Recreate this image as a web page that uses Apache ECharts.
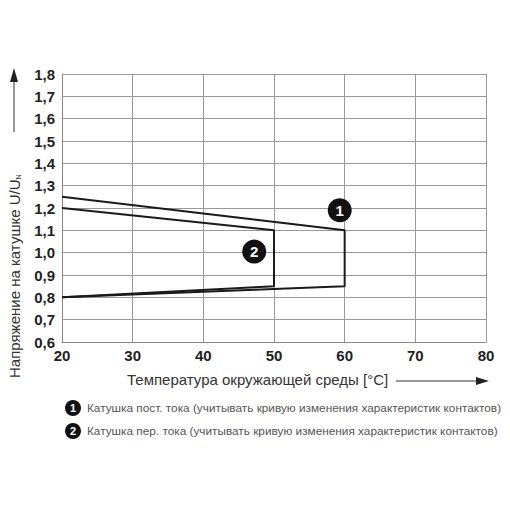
<!DOCTYPE html>
<html><head><meta charset="utf-8">
<script src="https://cdn.jsdelivr.net/npm/echarts@6/dist/echarts.min.js"></script>
<style>html,body{margin:0;padding:0;background:#fff}#c{width:510px;height:510px}</style>
</head><body><div id="c"></div>
<script>
const xTicks = [20, 30, 40, 50, 60, 70, 80];
const yTicks = [0.6, 0.7, 0.8, 0.9, 1.0, 1.1, 1.2, 1.3, 1.4, 1.5, 1.6, 1.7, 1.8];
// Curve 1: DC coil
const dcX = [20, 60, 60, 20];
const dcY = [1.25, 1.10, 0.85, 0.80];
// Curve 2: AC coil
const acX = [20, 50, 50, 20];
const acY = [1.20, 1.10, 0.85, 0.80];
// Numbered markers
const markerX = [59.3, 47.2];
const markerY = [1.19, 1.005];
const markerLabels = ['1', '2'];
const legendTexts = [
  'Катушка пост. тока (учитывать кривую изменения характеристик контактов)',
  'Катушка пер. тока (учитывать кривую изменения характеристик контактов)'
];
const xTitle = 'Температура окружающей среды [°C]';
const yTitle = 'Напряжение на катушке U/U';
const yTitleSub = 'N';

const font = 'Liberation Sans, Arial, sans-serif';
const chart = echarts.init(document.getElementById('c'), null, {renderer: 'svg'});
const zip = (xs, ys) => xs.map((x, i) => [x, ys[i]]);

const graphic = [
  // x title
  {type: 'text', left: 127, top: 372, style: {text: xTitle, font: '15px ' + font, fill: '#333'}},
  {type: 'line', shape: {x1: 396, y1: 381, x2: 478, y2: 381}, style: {stroke: '#333', lineWidth: 1}},
  {type: 'polygon', shape: {points: [[489, 381], [476, 377], [476, 385]]}, style: {fill: '#222'}},
  // y title
  {type: 'text', x: 14, y: 378, rotation: Math.PI / 2,
   style: {text: '{a|' + yTitle + '}{s|' + yTitleSub + '}', align: 'left', verticalAlign: 'middle',
     rich: {a: {font: '15px ' + font, fill: '#333'}, s: {font: '7px ' + font, fill: '#333', padding: [9, 0, 0, 0]}}}},
  {type: 'line', shape: {x1: 14, y1: 132, x2: 14, y2: 82}, style: {stroke: '#333', lineWidth: 1}},
  {type: 'polygon', shape: {points: [[14, 68], [10, 82], [18, 82]]}, style: {fill: '#222'}}
];
legendTexts.forEach((t, i) => {
  const cy = 408 + i * 23;
  graphic.push({type: 'circle', shape: {cx: 73, cy: cy, r: 8}, style: {fill: '#111'}});
  graphic.push({type: 'text', x: 73, y: cy, style: {text: markerLabels[i], font: 'bold 11px ' + font, fill: '#fff', align: 'center', verticalAlign: 'middle'}});
  graphic.push({type: 'text', x: 87, y: cy, style: {text: t, font: '11.8px ' + font, fill: '#555', align: 'left', verticalAlign: 'middle'}});
});

chart.setOption({
  animation: false,
  grid: {left: 62, right: 24, top: 74, bottom: 168, containLabel: false},
  xAxis: {
    type: 'value', min: 20, max: 80, interval: 10,
    axisLine: {show: true, lineStyle: {color: '#888', width: 1}},
    axisTick: {show: false},
    splitLine: {show: true, lineStyle: {color: '#999', width: 1}},
    axisLabel: {color: '#222', fontSize: 15, fontWeight: 'bold', fontFamily: font, margin: 6,
      formatter: v => xTicks.includes(v) ? String(v) : ''}
  },
  yAxis: {
    type: 'value', min: 0.6, max: 1.8, interval: 0.1,
    axisLine: {show: true, lineStyle: {color: '#888', width: 1}},
    axisTick: {show: false},
    splitLine: {show: true, lineStyle: {color: '#999', width: 1}},
    axisLabel: {color: '#222', fontSize: 15, fontWeight: 'bold', fontFamily: font, margin: 7,
      formatter: v => {
        const m = yTicks.find(t => Math.abs(t - v) < 1e-6);
        return m === undefined ? '' : m.toFixed(1).replace('.', ',');
      }}
  },
  series: [
    {type: 'line', data: zip(dcX, dcY), showSymbol: false, lineStyle: {color: '#1a1a1a', width: 2}, z: 3},
    {type: 'line', data: zip(acX, acY), showSymbol: false, lineStyle: {color: '#1a1a1a', width: 2}, z: 3},
    {type: 'scatter', data: markerX.map((x, i) => [x, markerY[i], markerLabels[i]]),
     symbol: 'circle', symbolSize: 24, itemStyle: {color: '#111', opacity: 1}, z: 5,
     label: {show: true, position: 'inside', formatter: p => p.value[2], color: '#fff', fontSize: 15, fontWeight: 'bold', fontFamily: font}}
  ],
  graphic: graphic
});
</script></body></html>
